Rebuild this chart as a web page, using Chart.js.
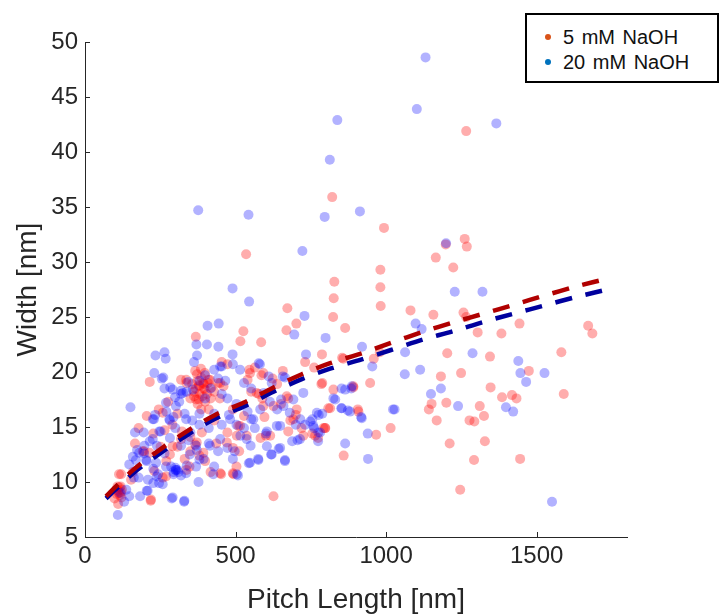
<!DOCTYPE html>
<html>
<head>
<meta charset="utf-8">
<title>Pitch length vs width</title>
<script src="https://cdn.jsdelivr.net/npm/chart.js@4.4.1/dist/chart.umd.min.js"></script>
<style>
  body { margin: 0; background: #fff; }
  #wrap { position: relative; width: 720px; height: 614px; }
  #legendBox {
    position: absolute; left: 525px; top: 13px; width: 190px; height: 66px;
    border: 2px solid #000; background: #fff;
    font-family: "Liberation Sans", Arial, sans-serif; font-size: 20px; color: #111;
  }
  .row { position: absolute; left: 0; height: 24px; line-height: 24px; white-space: nowrap; word-spacing: 2px; }
  .dot { position: absolute; left: 18px; top: 9px; width: 6px; height: 6px; border-radius: 50%; }
  .lbl { position: absolute; left: 36px; top: 0; }
</style>
</head>
<body>
<div id="wrap">
  <canvas id="myChart" width="720" height="614"></canvas>
  <div id="legendBox">
    <div class="row" style="top:10px"><span class="dot" style="background:#D95319"></span><span class="lbl">5 mM NaOH</span></div>
    <div class="row" style="top:35px"><span class="dot" style="background:#0072BD"></span><span class="lbl">20 mM NaOH</span></div>
  </div>
</div>
<script>
// 축 눈금
const xTicks = [0, 500, 1000, 1500];
const yTicks = [5, 10, 15, 20, 25, 30, 35, 40, 45, 50];

// 5 mM NaOH : [pitch length, width]
const red5 = [
  [1266,41.9],[821,35.9],[993,33.1],[535,30.7],[1261,32.1],[1198,31.6],[1268,31.4],[1165,30.4],
  [1223,29.5],[981,29.3],[828,28.2],[981,27.7],[826,26.7],[982,26.0],[1081,25.6],[1157,25.2],
  [1257,25.4],[1266,25.0],[824,25.0],[672,25.8],[669,23.8],[702,24.4],[526,23.7],[516,22.8],
  [585,22.7],[368,23.2],[864,24.0],[1304,23.6],[1383,23.5],[1443,24.4],[1671,24.2],[1685,23.5],
  [787,21.6],[854,21.3],[959,21.2],[979,21.8],[1203,21.7],[1345,21.4],[1582,21.8],[1182,19.6],
  [1249,19.9],[1474,20.1],[1590,18.0],[1347,18.6],[1385,17.7],[1418,17.9],[1433,17.6],[1151,17.1],
  [1142,16.6],[1200,17.2],[1311,16.9],[1325,16.0],[1168,15.6],[1277,15.6],[1293,15.5],[1328,13.7],
  [1211,13.5],[1292,12.0],[1445,12.1],[1246,9.3],[1015,14.9],[967,14.3],[947,19.0],[906,16.6],
  [808,16.7],[798,14.9],[859,12.4],[626,8.7],[785,18.9],[891,18.7],
  // 밀집 구간
  [374,19.2],[386,19.5],[368,18.5],[395,18.5],[380,18.0],[405,18.0],[362,17.8],[417,17.6],
  [399,17.3],[374,17.1],[350,17.6],[429,18.2],[386,16.6],[411,16.6],[356,18.9],[337,19.0],
  [442,19.0],[392,19.0],[378,18.8],[398,19.9],[366,20.1],[410,19.3],
  [372,19.8],[385,20.3],[395,18.9],[378,17.5],[408,19.0],[362,18.2],[390,17.8],[420,18.6],
  [110,9.2],[116,8.8],[104,9.3],[123,9.3],[113,10.7],[110,8.0],[98,8.5],[118,9.6],[106,8.9],
  [112,9.0],[120,9.1],[115,9.5],[108,9.6],[121,8.6],
  [215,19.1],[205,16.0],[218,8.3],[196,12.8],[227,14.4],[251,13.2],[264,14.7],[270,11.9],
  [282,12.5],[307,13.2],[331,12.1],[350,12.8],[371,13.6],[366,13.4],[380,12.4],[417,10.9],
  [452,10.7],[491,10.8],[399,11.9],[319,19.3],[307,16.2],[454,20.9],[473,20.7],[491,16.6],
  [509,15.1],[512,12.8],[537,14.2],[546,20.2],[564,20.4],[586,19.7],[552,18.2],[577,18.0],
  [589,17.6],[596,15.9],[601,14.2],[583,14.0],[626,16.9],[651,17.1],[675,17.6],[682,15.6],
  [700,16.1],[719,14.9],[725,14.2],[755,14.4],[774,14.0],[792,14.9],[761,20.4],[731,20.9],
  [657,20.1],[623,19.4],[638,18.9],[276,17.3],[245,16.6],[178,14.9],[166,13.5],[159,10.9],
  [153,10.2],[436,13.5],[473,14.5],[337,11.1],[491,13.1],[503,11.4],[350,14.1],[429,15.6],
  [528,16.0],[448,17.6],[230,11.0],[258,10.4],[290,15.2],[322,14.6],[460,18.7],[540,19.3],
  [258,16.3],[336,19.3],[380,18.7],[192,12.8],[214,12.65],[269,10.5],[120,10.7],[219,8.4],
  [347,11.4],[369,17.5],[291,13.25],[319,13.9],[548,19.9],[592,19.9],[570,18.1],[670,17.8],
  [703,16.6],[692,15.7],[675,14.6],[615,14.2],[515,15.1],[504,14.2],[471,13.6],[449,10.8],
  [493,10.7],[393,12.65],[388,14.5],[415,19.3],[399,18.4],[449,19.0],[592,16.9],
  [858,21.2],[788,19.0],[825,18.4],[891,18.6],[814,16.7],[908,16.4],[797,14.9],[764,14.2]
];

// 20 mM NaOH : [pitch length, width]
const blue20 = [
  [1131,48.6],[1102,43.9],[838,42.9],[1366,42.6],[813,39.3],[376,34.7],[796,34.1],[543,34.3],
  [913,34.6],[722,31.0],[1199,31.7],[490,27.6],[545,26.4],[1228,27.3],[1320,27.3],[729,25.1],
  [695,23.4],[799,23.1],[1098,24.4],[1118,23.9],[920,22.3],[954,20.5],[734,21.6],[1063,21.8],
  [1062,19.8],[1113,20.2],[1287,21.7],[1439,21.0],[1446,19.9],[1465,19.1],[1526,19.9],[1149,18.0],
  [1182,18.5],[1239,16.9],[1398,16.8],[1422,16.4],[1023,16.6],[1028,16.6],[825,17.6],[852,18.5],
  [884,18.5],[851,16.7],[873,16.5],[917,15.9],[939,14.4],[940,12.1],[864,13.5],[1551,8.2],
  // 밀집 구간
  [264,21.8],[234,21.5],[268,21.2],[230,19.9],[255,19.4],[362,20.9],[372,21.5],[370,22.5],
  [407,24.2],[444,24.4],[405,22.5],[443,22.3],[490,21.6],[491,20.7],[577,20.8],[610,19.6],
  [657,19.6],[283,18.6],[264,18.5],[299,17.7],[319,18.3],[343,19.1],[270,16.4],[233,16.1],
  [151,16.8],[229,15.7],[166,14.5],[195,14.5],[294,15.9],[300,14.9],[215,13.7],[173,12.9],
  [205,11.9],[227,11.2],[243,10.7],[286,11.4],[301,11.1],[319,10.6],[338,11.5],[377,10.0],
  [137,9.3],[183,8.7],[205,9.2],[288,8.5],[329,8.2],[109,7.0],[130,8.2],[117,9.0],
  [162,10.4],[246,9.9],[238,10.5],[394,12.1],[371,12.9],[348,12.5],[344,13.8],[350,14.5],
  [411,13.5],[442,12.8],[429,11.4],[473,13.1],[491,12.1],[508,10.6],[497,12.8],[516,14.2],
  [550,13.3],[575,12.1],[544,11.7],[618,12.5],[643,13.0],[664,11.9],[648,15.1],[706,13.8],
  [688,13.7],[715,15.7],[731,15.2],[774,13.7],[781,14.5],[761,14.9],[755,15.7],[776,16.1],
  [788,16.2],[700,15.2],[680,16.3],[651,17.5],[614,17.3],[594,18.1],[582,16.6],[552,15.7],
  [540,16.4],[503,17.1],[478,16.1],[454,18.0],[466,19.2],[442,19.4],[417,18.5],[399,17.6],
  [380,16.2],[356,15.6],[331,16.2],[313,17.3],[429,16.2],[454,15.2],[411,14.9],[380,15.2],
  [503,15.2],[528,14.9],[564,14.9],[601,14.4],[473,17.6],[528,19.0],[552,18.5],[620,19.0],
  [638,16.6],[147,11.6],[178,10.4],[209,10.2],[227,9.9],[294,10.9],[307,11.1],[294,10.7],
  [264,12.6],[239,13.3],[282,14.0],[251,14.6],[319,13.3],[282,15.6],[319,18.0],[337,18.2],
  [380,19.2],[399,19.7],[429,20.2],[454,20.5],[196,12.6],[159,12.3],[310,10.9],[300,11.3],
  [260,19.5],[291,18.4],[325,18.1],[358,18.4],[269,17.2],[302,16.9],[336,15.7],[280,15.7],
  [247,14.6],[225,13.9],[197,13.3],[180,12.65],[169,12.0],[203,12.0],[236,11.75],[269,11.4],
  [302,11.1],[336,10.8],[369,11.4],[258,9.8],[291,8.6],[330,8.3],[147,8.7],[208,9.2],
  [369,13.3],[380,12.05],[225,15.7],[449,20.5],[515,20.2],[581,20.7],[664,19.5],[725,18.1],
  [770,16.3],[748,15.5],[714,13.9],[648,13.1],[620,12.5],[664,12.0],[576,12.0],[548,11.75],
  [504,10.7],[426,10.7],[637,15.1],[604,14.6],[559,15.7],[482,15.7],[449,13.9],[415,13.3],
  [537,13.9],[604,13.25],[659,16.9],[692,17.5],[831,17.5],[864,18.4],[886,18.7],[853,16.7],
  [880,16.4],[919,15.8],[758,15.1],[775,14.5]
];

// 피팅 곡선
const fitX = [70, 160, 249, 338, 432, 526, 626, 720, 814, 919, 1016, 1122, 1222, 1323, 1423, 1526, 1628, 1750];
const redFitY = [8.7, 11.1, 12.95, 14.6, 16.1, 17.2, 18.6, 19.8, 20.8, 21.7, 22.65, 23.65, 24.5, 25.3, 26.1, 26.95, 27.75, 28.6];
const blueFitY = [8.5, 10.8, 12.6, 14.25, 15.75, 16.85, 18.2, 19.35, 20.3, 21.15, 22.0, 22.95, 23.7, 24.55, 25.3, 26.05, 26.8, 27.6];

const toPts = arr => arr.map(p => ({x: p[0], y: p[1]}));
const fitPts = ys => fitX.map((x, i) => ({x: x, y: ys[i]}));

// 안쪽으로 향하는 눈금 표시
const innerTicks = {
  id: 'innerTicks',
  afterDraw(chart) {
    const ctx = chart.ctx, a = chart.chartArea;
    const xs = chart.scales.x, ys = chart.scales.y;
    ctx.save();
    ctx.strokeStyle = '#262626';
    ctx.lineWidth = 1;
    ctx.beginPath();
    xTicks.forEach(v => {
      const p = Math.round(xs.getPixelForValue(v)) + 0.5;
      ctx.moveTo(p, a.bottom); ctx.lineTo(p, a.bottom - 5);
    });
    yTicks.forEach(v => {
      const p = Math.round(ys.getPixelForValue(v)) + 0.5;
      ctx.moveTo(a.left, p); ctx.lineTo(a.left + 5, p);
    });
    ctx.stroke();
    ctx.restore();
  }
};

const font = '"Liberation Sans", Arial, sans-serif';
const ctx = document.getElementById('myChart');

new Chart(ctx, {
  type: 'scatter',
  data: {
    datasets: [
      {
        label: 'fit 5 mM', data: fitPts(redFitY), showLine: true,
        borderColor: '#B00000', borderWidth: 4.5, borderDash: [17, 14],
        pointRadius: 0, fill: false, tension: 0.3
      },
      {
        label: 'fit 20 mM', data: fitPts(blueFitY), showLine: true,
        borderColor: '#00009E', borderWidth: 4.5, borderDash: [17, 14],
        pointRadius: 0, fill: false, tension: 0.3
      },
      {
        label: '20 mM NaOH', data: toPts(blue20),
        backgroundColor: 'rgba(0,0,255,0.3)', borderWidth: 0, pointRadius: 5
      },
      {
        label: '5 mM NaOH', data: toPts(red5),
        backgroundColor: 'rgba(255,0,0,0.32)', borderWidth: 0, pointRadius: 5
      }
    ]
  },
  options: {
    responsive: false,
    animation: false,
    layout: { padding: { top: 42, right: 93, left: 0, bottom: 0 } },
    plugins: { legend: { display: false }, tooltip: { enabled: false } },
    scales: {
      x: {
        type: 'linear', min: 0, max: 1800,
        afterBuildTicks: s => { s.ticks = xTicks.map(v => ({value: v})); },
        afterFit: s => { s.height = 77; },
        grid: { display: false, drawTicks: false, tickLength: 0 },
        border: { color: '#262626', width: 1 },
        ticks: { color: '#262626', padding: 5, font: { family: font, size: 24 },
                 callback: v => String(v) },
        title: { display: true, text: 'Pitch Length [nm]', color: '#262626',
                 font: { family: font, size: 28, lineHeight: 1 }, padding: { top: 0, bottom: 0 } }
      },
      y: {
        type: 'linear', min: 5, max: 50,
        afterBuildTicks: s => { s.ticks = yTicks.map(v => ({value: v})); },
        afterFit: s => { s.width = 85; },
        grid: { display: false, drawTicks: false, tickLength: 0 },
        border: { color: '#262626', width: 1 },
        ticks: { color: '#262626', padding: 7, font: { family: font, size: 24 },
                 callback: v => String(v) },
        title: { display: true, text: 'Width [nm]', color: '#262626',
                 font: { family: font, size: 28, lineHeight: 1 }, padding: { top: 14, bottom: 0 } }
      }
    }
  },
  plugins: [innerTicks]
});
</script>
</body>
</html>
